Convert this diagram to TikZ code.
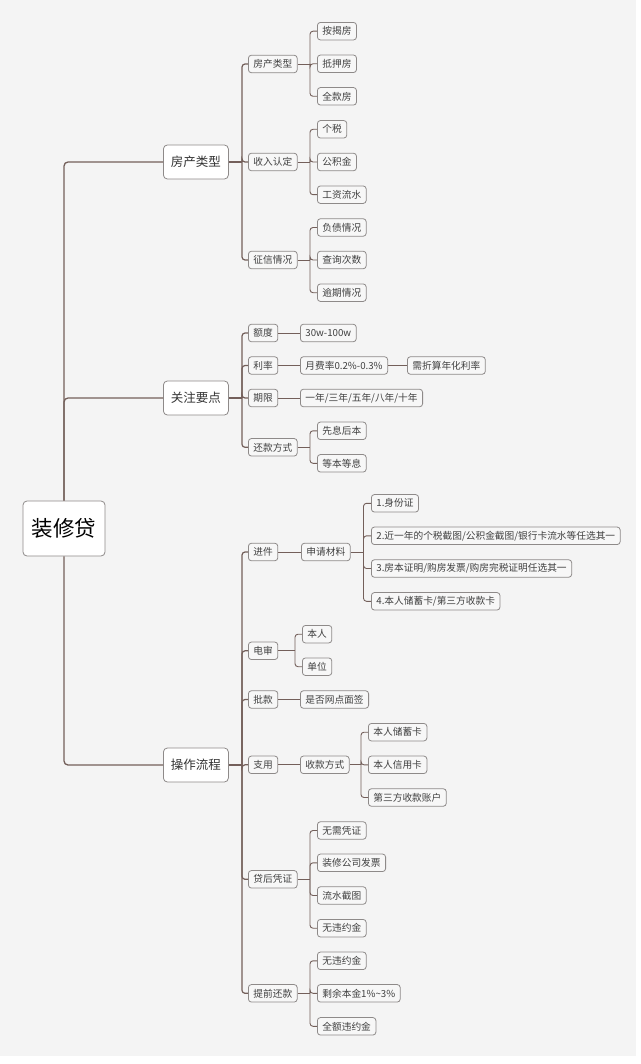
\documentclass[tikz,border=0pt]{standalone}
\usepackage{fontspec}
\setmainfont{Noto Sans CJK SC}
\definecolor{bgc}{HTML}{F4F4F4}
\definecolor{leaff}{HTML}{F7F7F7}
\definecolor{bord}{HTML}{8E8A89}
\definecolor{linec}{HTML}{735F5A}
\definecolor{txt}{HTML}{404040}
\tikzset{
  leafbox/.style={draw=bord, fill=leaff, line width=0.8pt, rounded corners=3pt, inner xsep=5pt, inner ysep=0pt, minimum height=17.5pt, font=\fontsize{9.7}{11}\selectfont, text=txt, anchor=west},
  lvlone/.style={draw=bord, fill=white, line width=0.8pt, rounded corners=4pt, inner xsep=7.5pt, inner ysep=0pt, minimum height=34pt, font=\fontsize{12.5}{14}\selectfont, text=black!80, anchor=west},
  rootbox/.style={draw=bord, fill=white, line width=0.8pt, rounded corners=4pt, inner xsep=8.75pt, inner ysep=0pt, minimum height=55pt, font=\fontsize{21.5}{24}\selectfont, text=black},
  conn/.style={draw=linec, line width=0.9pt},
  connb/.style={draw=linec, line width=1.2pt},
  trunk/.style={draw=linec, line width=1.3pt, rounded corners=4pt}
}
\newcommand\mybranch[4]{%
  \coordinate (#1x) at (#2,0);
  \coordinate (#1j) at (#1.east -| #1x);
  \draw[#4] (#1.east) -- (#1j);
  \foreach \ch in {#3} { \draw[#4, rounded corners=3pt] (#1j) |- (\ch.west); }
}
\begin{document}
\begin{tikzpicture}[x=1pt,y=-1pt]
\fill[white] (0,0) rectangle (640,1064);
\fill[bgc] (0,0) rectangle (635.5,1056);
\useasboundingbox (0,0) rectangle (640,1064);

% root and level one
\node[rootbox] (root) at (64,528.5) {装修贷};
\node[lvlone] (a) at (163,162) {房产类型};
\node[lvlone] (b) at (163,398) {关注要点};
\node[lvlone] (c) at (163,765) {操作流程};

% group a
\node[leafbox] (a1) at (248,64) {房产类型};
\node[leafbox] (a2) at (248,162) {收入认定};
\node[leafbox] (a3) at (248,260) {征信情况};
\node[leafbox] (a11) at (317,31.2) {按揭房};
\node[leafbox] (a12) at (317,63.8) {抵押房};
\node[leafbox] (a13) at (317,96.3) {全款房};
\node[leafbox] (a21) at (317,129.3) {个税};
\node[leafbox] (a22) at (317,162) {公积金};
\node[leafbox] (a23) at (317,194.7) {工资流水};
\node[leafbox] (a31) at (317,227.5) {负债情况};
\node[leafbox] (a32) at (317,260) {查询次数};
\node[leafbox] (a33) at (317,292.7) {逾期情况};

% group b
\node[leafbox] (b1) at (248,333) {额度};
\node[leafbox] (b11) at (300,333) {30w-100w};
\node[leafbox] (b2) at (248,365.5) {利率};
\node[leafbox] (b21) at (300,365.5) {月费率0.2\%-0.3\%};
\node[leafbox] (b211) at (407,365.5) {需折算年化利率};
\node[leafbox] (b3) at (248,398) {期限};
\node[leafbox] (b31) at (300,398) {一年/三年/五年/八年/十年};
\node[leafbox] (b4) at (248,447.3) {还款方式};
\node[leafbox] (b41) at (317,430.8) {先息后本};
\node[leafbox] (b42) at (317,463.3) {等本等息};

% group c
\node[leafbox] (c1) at (248,552) {进件};
\node[leafbox] (c11) at (301,552) {申请材料};
\node[leafbox] (c111) at (371,503.3) {1.身份证};
\node[leafbox] (c112) at (371,535.8) {2.近一年的个税截图/公积金截图/银行卡流水等任选其一};
\node[leafbox] (c113) at (371,568.5) {3.房本证明/购房发票/购房完税证明任选其一};
\node[leafbox] (c114) at (371,601.3) {4.本人储蓄卡/第三方收款卡};
\node[leafbox] (c2) at (248,650.8) {电审};
\node[leafbox] (c21) at (302,634.2) {本人};
\node[leafbox] (c22) at (302,666.7) {单位};
\node[leafbox] (c3) at (248,699.5) {批款};
\node[leafbox] (c31) at (300,699.5) {是否网点面签};
\node[leafbox] (c4) at (248,764.8) {支用};
\node[leafbox] (c41) at (300,764.8) {收款方式};
\node[leafbox] (c411) at (368,732.2) {本人储蓄卡};
\node[leafbox] (c412) at (368,764.8) {本人信用卡};
\node[leafbox] (c413) at (368,797.5) {第三方收款账户};
\node[leafbox] (c5) at (248,879.3) {贷后凭证};
\node[leafbox] (c51) at (317,830.5) {无需凭证};
\node[leafbox] (c52) at (317,862.8) {装修公司发票};
\node[leafbox] (c53) at (317,895.5) {流水截图};
\node[leafbox] (c54) at (317,928.2) {无违约金};
\node[leafbox] (c6) at (248,993.3) {提前还款};
\node[leafbox] (c61) at (317,960.8) {无违约金};
\node[leafbox] (c62) at (317,993.3) {剩余本金1\%\textasciitilde3\%};
\node[leafbox] (c63) at (317,1026.3) {全额违约金};

% trunk
\draw[trunk] (root.north) |- (a.west);
\draw[trunk] (root.north) |- (b.west);
\draw[trunk] (root.south) |- (c.west);

% level one branches
\mybranch{a}{242}{a1,a2,a3}{connb}
\mybranch{b}{242}{b1,b2,b3,b4}{connb}
\mybranch{c}{242}{c1,c2,c3,c4,c5,c6}{connb}

% level two branches
\mybranch{a1}{310}{a11,a12,a13}{conn}
\mybranch{a2}{310}{a21,a22,a23}{conn}
\mybranch{a3}{310}{a31,a32,a33}{conn}
\draw[conn] (b1.east) -- (b11.west);
\draw[conn] (b2.east) -- (b21.west);
\draw[conn] (b21.east) -- (b211.west);
\draw[conn] (b3.east) -- (b31.west);
\mybranch{b4}{310}{b41,b42}{conn}
\draw[conn] (c1.east) -- (c11.west);
\mybranch{c11}{363.5}{c111,c112,c113,c114}{conn}
\mybranch{c2}{295}{c21,c22}{conn}
\draw[conn] (c3.east) -- (c31.west);
\draw[conn] (c4.east) -- (c41.west);
\mybranch{c41}{361}{c411,c412,c413}{conn}
\mybranch{c5}{310}{c51,c52,c53,c54}{conn}
\mybranch{c6}{310}{c61,c62,c63}{conn}
\end{tikzpicture}
\end{document}
